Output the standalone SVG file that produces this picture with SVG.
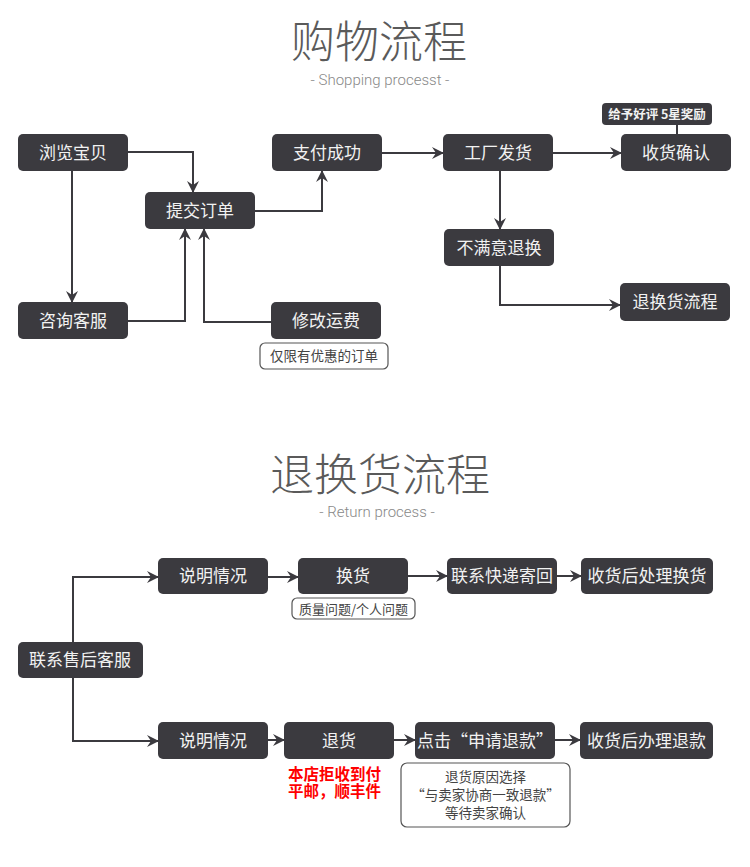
<svg xmlns="http://www.w3.org/2000/svg" width="750" height="867" viewBox="0 0 750 867">
<defs>
<style>
.node rect.b{fill:#3b3a3f;}
.node text{fill:#f2f2f2;font-family:"Noto Sans CJK SC","Noto Sans",sans-serif;font-size:17px;text-anchor:middle;}
.title{fill:#5a5a5a;font-family:"Noto Sans CJK SC",sans-serif;font-weight:200;font-size:44px;text-anchor:middle;}
.sub{fill:#888;font-family:Roboto,"Liberation Sans",sans-serif;font-weight:300;font-size:15px;text-anchor:middle;}
.note rect{fill:#fff;stroke:#555;stroke-width:1.2;}
.note text{fill:#444;font-family:"Noto Sans CJK SC",sans-serif;font-size:13.5px;text-anchor:middle;}
.conn path{fill:none;stroke:#3b3a3f;stroke-width:2;}
.red{fill:#ff0000;font-family:"Noto Sans CJK SC",sans-serif;font-weight:bold;font-size:15.5px;}
</style>
<marker id="arr" viewBox="0 0 12 12" refX="11" refY="6" markerWidth="12" markerHeight="12" markerUnits="userSpaceOnUse" orient="auto">
<path d="M0,0 L12,6 L0,12 L4,6 z" fill="#3b3a3f"/>
</marker>
</defs>
<rect width="750" height="867" fill="#fff"/>

<text class="title" x="379" y="58">购物流程</text>
<text class="sub" x="380" y="85">- Shopping processt -</text>
<text class="title" x="380" y="491">退换货流程</text>
<text class="sub" x="377" y="517">- Return process -</text>

<g class="conn">
<path d="M128,152 H193 V192" marker-end="url(#arr)"/>
<path d="M72,171 V302" marker-end="url(#arr)"/>
<path d="M128,321 H185 V229" marker-end="url(#arr)"/>
<path d="M271,322 H204 V229" marker-end="url(#arr)"/>
<path d="M255,211 H322 V171" marker-end="url(#arr)"/>
<path d="M382,153 H443" marker-end="url(#arr)"/>
<path d="M553,153 H621" marker-end="url(#arr)"/>
<path d="M500,171 V229" marker-end="url(#arr)"/>
<path d="M500,266 V305 H620" marker-end="url(#arr)"/>
<path d="M677,125 V134"/>
<path d="M73,642 V577 H158" marker-end="url(#arr)"/>
<path d="M268,577 H298" marker-end="url(#arr)"/>
<path d="M408,576 H447" marker-end="url(#arr)"/>
<path d="M557,576 H581" marker-end="url(#arr)"/>
<path d="M73,678 V741 H158" marker-end="url(#arr)"/>
<path d="M268,740 H284" marker-end="url(#arr)"/>
<path d="M394,740 H415" marker-end="url(#arr)"/>
<path d="M555,740 H580" marker-end="url(#arr)"/>
</g>

<g id="n-browse" class="node"><rect class="b" x="18" y="134" width="110" height="37" rx="5"/><text x="73" y="159">浏览宝贝</text></g>
<g id="n-submit" class="node"><rect class="b" x="145" y="192" width="110" height="37" rx="5"/><text x="200" y="217">提交订单</text></g>
<g id="n-pay" class="node"><rect class="b" x="272" y="134" width="110" height="37" rx="5"/><text x="327" y="159">支付成功</text></g>
<g id="n-consult" class="node"><rect class="b" x="18" y="302" width="110" height="37" rx="5"/><text x="73" y="327">咨询客服</text></g>
<g id="n-modify" class="node"><rect class="b" x="271" y="302" width="110" height="37" rx="5"/><text x="326" y="327">修改运费</text></g>
<g id="note-discount" class="note"><rect x="260" y="343" width="128" height="26" rx="5"/><text x="324" y="361">仅限有优惠的订单</text></g>
<g id="n-ship" class="node"><rect class="b" x="443" y="134" width="110" height="37" rx="5"/><text x="498" y="159">工厂发货</text></g>
<g id="n-confirm" class="node"><rect class="b" x="621" y="134" width="110" height="37" rx="5"/><text x="676" y="159">收货确认</text></g>
<g id="n-review" class="node"><rect class="b" x="602" y="103" width="110" height="22" rx="4"/><text x="657" y="119" style="font-size:12.5px;font-weight:bold">给予好评 5星奖励</text></g>
<g id="n-unsatisfied" class="node"><rect class="b" x="444" y="229" width="110" height="37" rx="5"/><text x="499" y="254">不满意退换</text></g>
<g id="n-returnflow" class="node"><rect class="b" x="620" y="283" width="110" height="38" rx="5"/><text x="675" y="308">退换货流程</text></g>

<g id="n-aftersale" class="node"><rect class="b" x="18" y="642" width="125" height="36" rx="5"/><text x="80" y="666">联系售后客服</text></g>
<g id="n-explain1" class="node"><rect class="b" x="158" y="558" width="110" height="36" rx="5"/><text x="213" y="582">说明情况</text></g>
<g id="n-exchange" class="node"><rect class="b" x="298" y="558" width="110" height="36" rx="5"/><text x="353" y="582">换货</text></g>
<g id="note-quality" class="note"><rect x="292" y="598" width="123" height="21" rx="5"/><text x="353.5" y="614" style="font-size:13px">质量问题/个人问题</text></g>
<g id="n-express" class="node"><rect class="b" x="447" y="558" width="110" height="36" rx="5"/><text x="502" y="582">联系快递寄回</text></g>
<g id="n-handleexch" class="node"><rect class="b" x="581" y="558" width="132" height="36" rx="5"/><text x="647" y="582">收货后处理换货</text></g>

<g id="n-explain2" class="node"><rect class="b" x="158" y="722" width="110" height="37" rx="5"/><text x="213" y="747">说明情况</text></g>
<g id="n-return" class="node"><rect class="b" x="284" y="722" width="110" height="37" rx="5"/><text x="339" y="747">退货</text></g>
<g id="red-note"><text class="red" x="288" y="780">本店拒收到付</text><text class="red" x="288" y="797">平邮，顺丰件</text></g>
<g id="n-apply" class="node"><rect class="b" x="415" y="722" width="140" height="37" rx="5"/><text x="485" y="747">点击“申请退款”</text></g>
<g id="n-refund" class="node"><rect class="b" x="580" y="722" width="133" height="37" rx="5"/><text x="646.5" y="747">收货后办理退款</text></g>
<g id="note-reason" class="note"><rect x="401" y="763" width="169" height="64" rx="6"/>
<text x="485.5" y="782">退货原因选择</text><text x="485.5" y="800">“与卖家协商一致退款”</text><text x="485.5" y="818">等待卖家确认</text></g>
</svg>
